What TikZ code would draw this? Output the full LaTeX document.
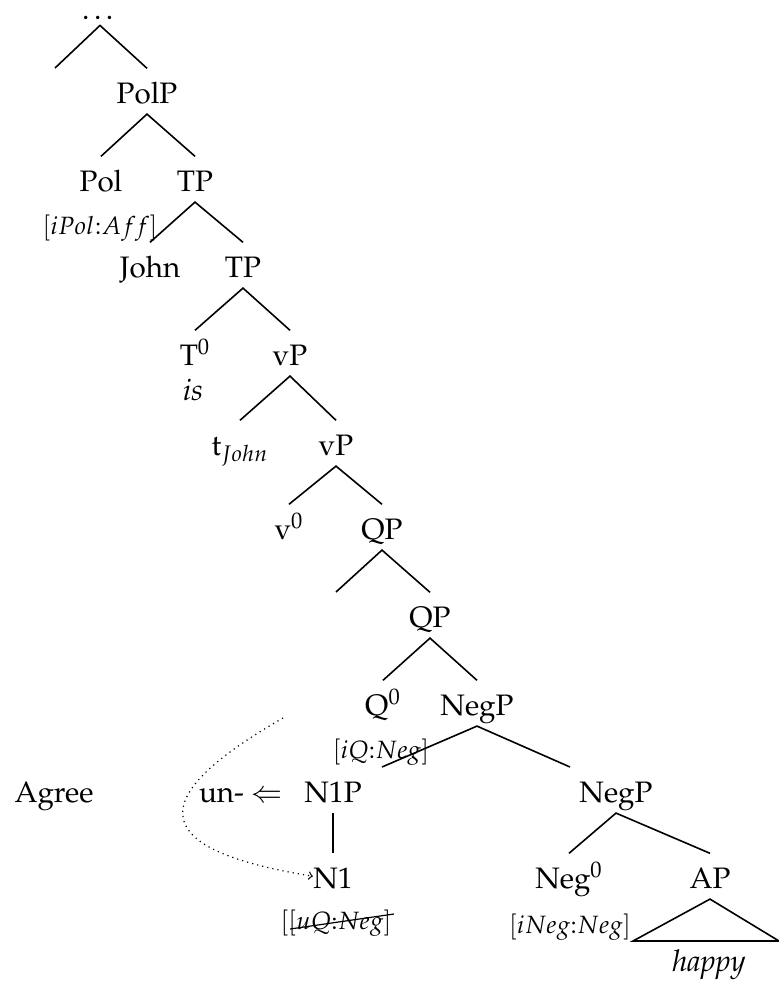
\documentclass[tikz,border=0pt]{standalone}
\usepackage[T1]{fontenc}
\usepackage{mathpazo}
\usepackage{amsmath, amssymb}
\usetikzlibrary{calc}

\begin{document}
\begin{tikzpicture}[x=0.5pt, y=-0.5pt,
  lab/.style={anchor=base, inner sep=0pt, text height=17.15pt, text depth=5.35pt, font=\fontsize{14.8}{17}\selectfont},
  feat/.style={anchor=base, inner sep=0pt, font=\fontsize{12.5}{14}\selectfont},
  word/.style={anchor=base, inner sep=0pt, font=\fontsize{15}{17}\selectfont\itshape},
  branch/.style={line width=0.8pt}]
\useasboundingbox (0,0) rectangle (779,987);

\node[lab, text height=3pt, text depth=3pt] (top) at (100,19) {\dots};
\node[lab] (PolP) at (147,103) {PolP};
\node[lab] (Pol) at (101,191) {Pol};
\node[lab] (TPa) at (195,191) {TP};
\node[feat] (iPol) at (100,234) {$[iPol{:}Aff]$};
\node[lab] (John) at (150,277) {John};
\node[lab] (TPb) at (243,277) {TP};
\node[lab] (T0) at (195,365) {T$^0$};
\node[word] (is) at (193,400) {is};
\node[lab] (vPa) at (290,365) {vP};
\node[lab] (tJohn) at (240,455) {t$_{John}$};
\node[lab] (vPb) at (336,455) {vP};
\node[lab] (v0) at (289,539) {v$^0$};
\node[lab] (QPa) at (382,539) {QP};
\node[lab] (QPb) at (430,627) {QP};
\node[lab] (Q0) at (383,715) {Q$^0$};
\node[lab] (NegPa) at (477,715) {NegP};
\node[feat] (iQ) at (381,758) {$[iQ{:}Neg]$};
\node[lab] (agree) at (54,802) {Agree};
\node[lab] (un) at (241,802) {un- $\Leftarrow$};
\node[lab] (N1P) at (333,802) {N1P};
\node[lab] (NegPb) at (616,802) {NegP};
\node[lab] (N1) at (333,888) {N1};
\node[feat] (uQ) at (336,929) {$[[uQ{:}Neg]$};
\node[lab] (Neg0) at (569,888) {Neg$^0$};
\node[feat] (iNeg) at (570,933) {$[iNeg{:}Neg]$};
\node[lab] (AP) at (710,888) {AP};
\node[word] (happy) at (709,971) {happy};

% loose branch ends
\coordinate (topl) at (55,68);
\coordinate (QPspec) at (336,592);
\coordinate (negl) at (382,767);
\coordinate (negr) at (570,767);
\coordinate (apl) at (633,941);
\coordinate (apr) at (779,941);
\coordinate (probe) at (283,718);

\draw[branch] (topl) -- (top.south) -- (PolP.north);
\draw[branch] (Pol.north) -- (PolP.south) -- (TPa.north);
\draw[branch] (John.north) -- (TPa.south) -- (TPb.north);
\draw[branch] (T0.north) -- (TPb.south) -- (vPa.north);
\draw[branch] (tJohn.north) -- (vPa.south) -- (vPb.north);
\draw[branch] (v0.north) -- (vPb.south) -- (QPa.north);
\draw[branch] (QPspec) -- (QPa.south) -- (QPb.north);
\draw[branch] (Q0.north) -- (QPb.south) -- (NegPa.north);
\draw[branch] (negl) -- (NegPa.south) -- (negr);
\draw[branch] (N1P.south) -- (N1.north);
\draw[branch] (Neg0.north) -- (NegPb.south) -- (AP.north);
\draw[branch] (AP.south) -- (apl) -- (apr) -- cycle;

% checked feature
\draw[line width=0.6pt] ($(uQ.base west)+(10,0)$) -- ($(uQ.base east)+(2,-15)$);

% agree
\draw[dotted, ->, line width=0.6pt] (probe) .. controls (140,800) and (150,850) .. (N1.west);
\end{tikzpicture}
\end{document}
